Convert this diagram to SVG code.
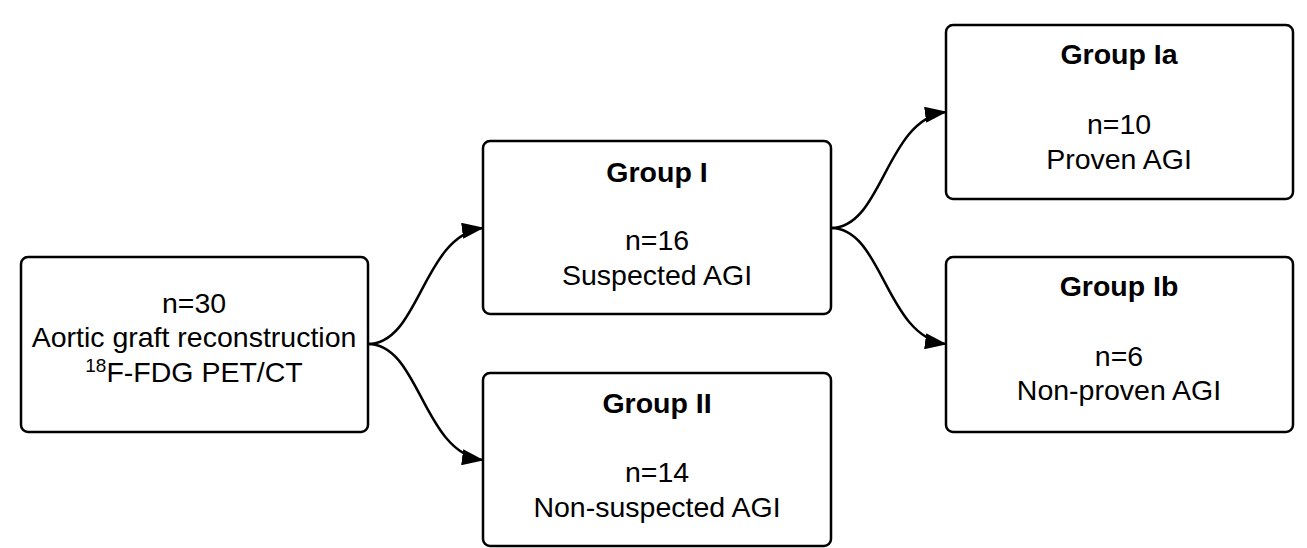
<svg xmlns="http://www.w3.org/2000/svg" width="1307" height="548" viewBox="0 0 1307 548">
<defs>
<style>
.box{fill:#fff;stroke:#000;stroke-width:2.5}
.t{font-family:"Liberation Sans",Arial,sans-serif;font-size:28.5px;fill:#000;text-anchor:middle}
.b{font-weight:bold}
.c{fill:none;stroke:#000;stroke-width:2.5}
</style>
<marker id="ah" viewBox="0 0 22 16" refX="21" refY="8" markerWidth="22" markerHeight="16" markerUnits="userSpaceOnUse" orient="auto">
<path d="M0,0 L22,8 L0,16 Z" fill="#000"/>
</marker>
</defs>
<rect width="1307" height="548" fill="#fff"/>
<g id="connectors">
<path class="c" d="M368,344 C420,344 422,236 483,228" marker-end="url(#ah)"/>
<path class="c" d="M368,344 C420,344 422,452 483,460" marker-end="url(#ah)"/>
<path class="c" d="M831,228 C883,228 885,120 946,112" marker-end="url(#ah)"/>
<path class="c" d="M831,228 C883,228 885,336 946,344" marker-end="url(#ah)"/>
</g>
<g id="root">
<rect class="box" x="21" y="257" width="347" height="175" rx="7"/>
<text class="t" x="194" y="313">n=30</text>
<text class="t" x="194" y="347">Aortic graft reconstruction</text>
<text class="t" x="194" y="382"><tspan font-size="19" dy="-10">18</tspan><tspan dy="10">F-FDG PET/CT</tspan></text>
</g>
<g id="group1">
<rect class="box" x="483" y="141" width="348" height="173" rx="7"/>
<text class="t b" x="657" y="182">Group I</text>
<text class="t" x="657" y="250">n=16</text>
<text class="t" x="657" y="285">Suspected AGI</text>
</g>
<g id="group2">
<rect class="box" x="483" y="373" width="348" height="173" rx="7"/>
<text class="t b" x="657" y="413">Group II</text>
<text class="t" x="657" y="482">n=14</text>
<text class="t" x="657" y="517">Non-suspected AGI</text>
</g>
<g id="group1a">
<rect class="box" x="946" y="25" width="347" height="174" rx="7"/>
<text class="t b" x="1119" y="64">Group Ia</text>
<text class="t" x="1119" y="134">n=10</text>
<text class="t" x="1119" y="169">Proven AGI</text>
</g>
<g id="group1b">
<rect class="box" x="946" y="257" width="347" height="175" rx="7"/>
<text class="t b" x="1119" y="296">Group Ib</text>
<text class="t" x="1119" y="366">n=6</text>
<text class="t" x="1119" y="400">Non-proven AGI</text>
</g>
</svg>
